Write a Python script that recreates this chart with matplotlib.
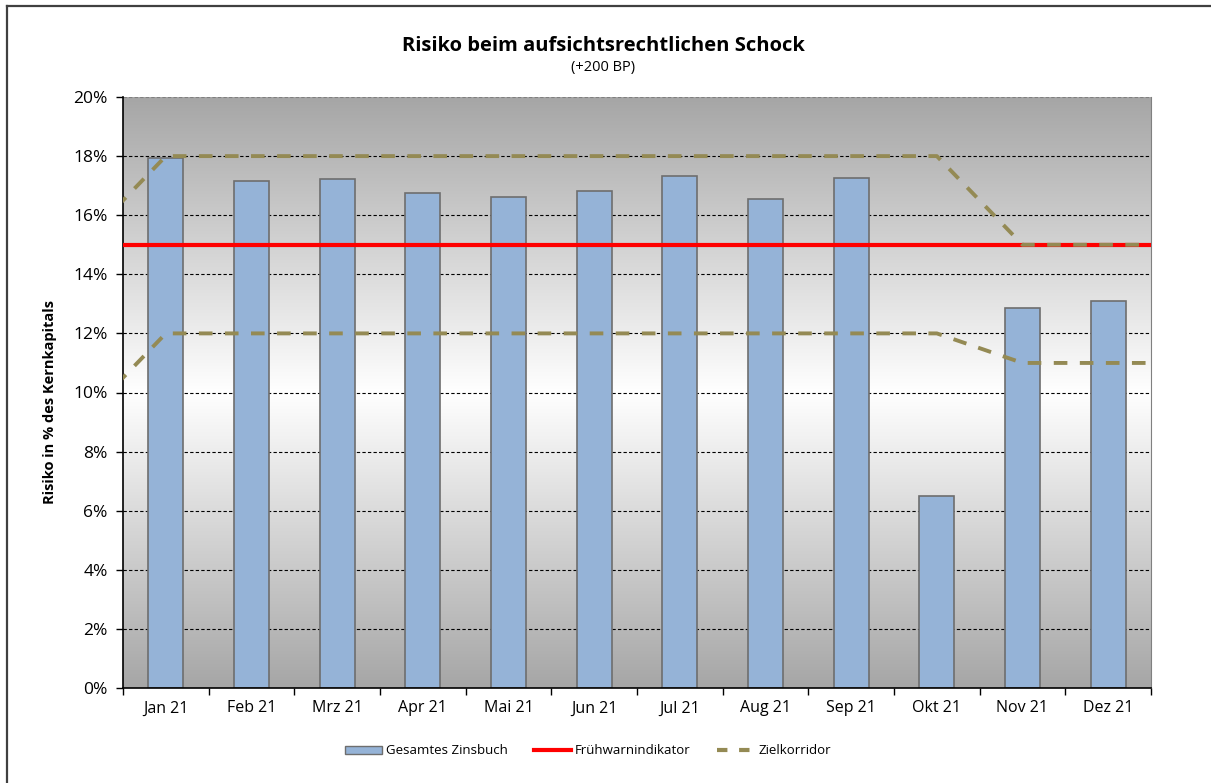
import matplotlib
matplotlib.use("Agg")
import matplotlib.pyplot as plt
import numpy as np
from matplotlib.lines import Line2D
from matplotlib.patches import Patch
from matplotlib.colors import LinearSegmentedColormap

plt.rcParams['font.family'] = ['Open Sans', 'DejaVu Sans']

# Daten
monate = ["Jan 21", "Feb 21", "Mrz 21", "Apr 21", "Mai 21", "Jun 21",
          "Jul 21", "Aug 21", "Sep 21", "Okt 21", "Nov 21", "Dez 21"]
zinsbuch = [17.93, 17.17, 17.22, 16.76, 16.63, 16.82,
            17.33, 16.55, 17.26, 6.5, 12.86, 13.1]
fruehwarn = 15.0
# Zielkorridor inkl. Vormonat (Dez 20) und Folgemonat (Jan 22)
korr_x = np.arange(-1, 13)
korr_oben = [15, 18, 18, 18, 18, 18, 18, 18, 18, 18, 18, 15, 15, 15]
korr_unten = [9, 12, 12, 12, 12, 12, 12, 12, 12, 12, 12, 11, 11, 11]

W, H = 1211, 783
fig = plt.figure(figsize=(W / 100, H / 100), dpi=100)
ax = fig.add_axes([123 / W, 1 - 688 / H, (1151 - 123) / W, (688 - 97) / H])

# Rahmen (nur links und oben sichtbar)
fig.lines.append(Line2D([6.5 / W, 6.5 / W], [-0.01, 1 - 5.5 / H], transform=fig.transFigure,
                        color="#404040", linewidth=1.6))
fig.lines.append(Line2D([6.5 / W, 1.01], [1 - 5.5 / H, 1 - 5.5 / H], transform=fig.transFigure,
                        color="#404040", linewidth=1.6))

x = np.arange(len(monate))
ax.set_xlim(-0.5, len(monate) - 0.5)
ax.set_ylim(0, 20)

# Hintergrund-Verlauf (dunkel oben/unten, hell in der Mitte)
cmap = LinearSegmentedColormap.from_list("bg", ["#a6a6a6", "#ffffff", "#a6a6a6"])
grad = np.linspace(0, 1, 256).reshape(-1, 1)
ax.imshow(grad, cmap=cmap, aspect="auto", extent=(-0.5, len(monate) - 0.5, 0, 20),
          origin="lower", zorder=0)

for yv in np.arange(2, 20, 2):
    ax.axhline(yv, color="black", linestyle=(0, (3, 2)), linewidth=0.8, zorder=1)
ax.axhline(20, color="#808080", linestyle=(0, (3, 2)), linewidth=0.8, zorder=1)

ax.bar(x, zinsbuch, width=0.41, color="#95b3d7", edgecolor="#6e6e6e", linewidth=1.2, zorder=2)
ax.axhline(fruehwarn, color="#ff0000", linewidth=3, zorder=3)
ax.plot(korr_x, korr_oben, color="#948a54", linestyle=(0, (3.5, 3.2)), linewidth=2.8, zorder=4)
ax.plot(korr_x, korr_unten, color="#948a54", linestyle=(0, (3.5, 3.2)), linewidth=2.8, zorder=4)

ax.set_yticks(np.arange(0, 21, 2))
ax.set_yticklabels([f"{v}%" for v in range(0, 21, 2)], fontsize=12.5)
ax.set_xticks(x)
ax.set_xticklabels(monate, fontsize=11.5)
ax.set_xticks(np.arange(-0.5, len(monate)), minor=True)
ax.tick_params(axis="x", which="major", length=0, pad=9)
ax.tick_params(axis="x", which="minor", length=5, width=1)
ax.tick_params(axis="y", length=5, width=1, pad=6)

ax.spines["left"].set_linewidth(1.2)
ax.spines["bottom"].set_linewidth(1.2)
ax.spines["right"].set_color("#808080")
ax.spines["top"].set_visible(False)

ax.set_ylabel("Risiko in % des Kernkapitals", fontsize=10.5, fontweight="bold")
ax.yaxis.set_label_coords(-0.064, 0.484)

fig.text(603 / W, 1 - 46 / H, "Risiko beim aufsichtsrechtlichen Schock",
         ha="center", va="center", fontsize=14.5, fontweight="bold")
fig.text(603 / W, 1 - 68 / H, "(+200 BP)", ha="center", va="center", fontsize=10.5)

handles = [Patch(facecolor="#95b3d7", edgecolor="#6e6e6e", label="Gesamtes Zinsbuch"),
           Line2D([], [], color="#ff0000", linewidth=3, label="Frühwarnindikator"),
           Line2D([], [], color="#948a54", linewidth=3, linestyle=(0, (2.5, 2.8)), label="Zielkorridor")]
fig.legend(handles=handles, loc="center", bbox_to_anchor=(588 / W, 1 - 751 / H), ncol=3,
           frameon=False, fontsize=9.5, handlelength=2.8, handleheight=0.6,
           handletextpad=0.3, columnspacing=2.0)

fig.savefig("out.png", dpi=100)
